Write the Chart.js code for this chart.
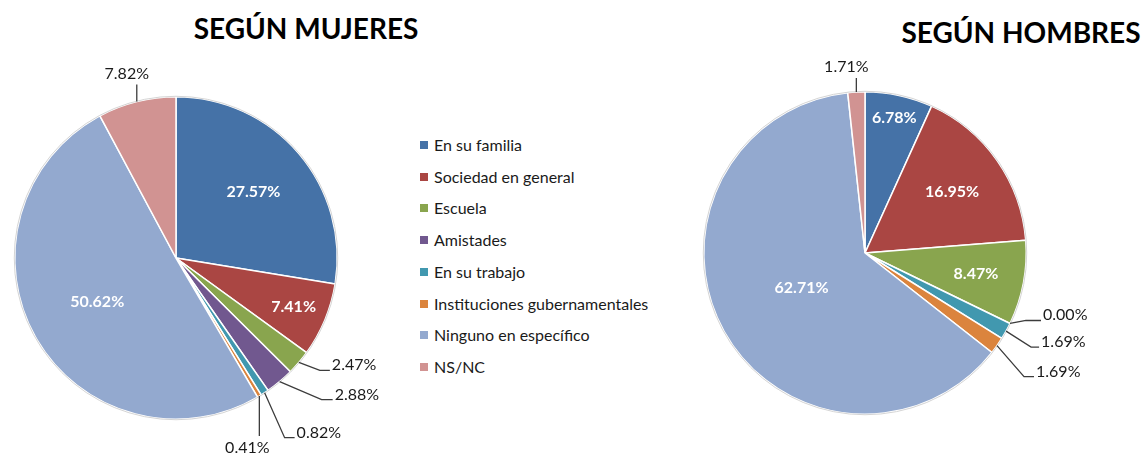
<!DOCTYPE html>
<html>
<head>
<meta charset="utf-8">
<script src="https://cdn.jsdelivr.net/npm/chart.js@4"></script>
<style>
  body { margin: 0; background: #fff; }
  #wrap { position: relative; width: 1142px; height: 456px; overflow: hidden; background: #fff; font-family: Lato, sans-serif; }
  canvas { position: absolute; top: 0; }
  .title { position: absolute; font: bold 28px Lato, sans-serif; color: #000; white-space: nowrap; transform: translateX(-50%); }
  #legend { position: absolute; left: 420px; top: 0; }
  .item { position: absolute; left: 0; white-space: nowrap; font-size: 16px; color: #1a1a1a; line-height: 18px; }
  .item span.box { position: absolute; left: 0; top: 5px; width: 8px; height: 8px; }
  .item span.txt { position: absolute; left: 14px; top: 0; }
</style>
</head>
<body>
<div id="wrap">
  <div class="title" style="left:306px; top:11px;">SEGÚN MUJERES</div>
  <div class="title" style="left:1021px; top:15px;">SEGÚN HOMBRES</div>
  <canvas id="mujeres" width="420" height="456" style="left:0; width:420px; height:456px;"></canvas>
  <div id="legend"></div>
  <canvas id="hombres" width="462" height="456" style="left:680px; width:462px; height:456px;"></canvas>
</div>
<script>
// categories and values (percent)
var categories = ["En su familia", "Sociedad en general", "Escuela", "Amistades", "En su trabajo",
                  "Instituciones gubernamentales", "Ninguno en específico", "NS/NC"];
var mujeres = [27.57, 7.41, 2.47, 2.88, 0.82, 0.41, 50.62, 7.82];
var hombres = [6.78, 16.95, 8.47, 0.00, 1.69, 1.69, 62.71, 1.71];
var colors = ["#4572A7", "#AA4643", "#89A54E", "#71588F", "#4198AF", "#DB843D", "#93A9CF", "#D19392"];

// label placement: inside = fraction of radius, leader = [dx, dy, horizontal] from the slice edge,
// text = [tx, ty] offset for labels on a vertical leader
var placesMujeres = [
  {inside: 0.63}, {inside: 0.79},
  {leader: [21, 8, 10]}, {leader: [42, 18, 11]}, {leader: [20, 45, 10]},
  {leader: [0, 40, 0], text: [-12, 57]},
  {inside: 0.56},
  {leader: [0, -17, 0], text: [-10, -23]}
];
var placesHombres = [
  {inside: 0.86}, {inside: 0.66}, {inside: 0.70},
  {leader: [16, -3, 15]}, {leader: [25, 16, 8]}, {leader: [27, 31, 10]},
  {inside: 0.45},
  {leader: [0, -14, 0], text: [-10, -20]}
];

// draws the percentage labels from the arc elements of the chart
var pieLabels = {
  id: 'pieLabels',
  afterDatasetsDraw: function(chart, args, opts) {
    var ctx = chart.ctx;
    var meta = chart.getDatasetMeta(0);
    var values = chart.data.datasets[0].data;
    // faint outer ring
    var a0 = meta.data[0].getProps(['x', 'y', 'outerRadius'], true);
    ctx.save();
    ctx.strokeStyle = '#d4d4d4';
    ctx.lineWidth = 1;
    ctx.beginPath();
    ctx.arc(a0.x, a0.y, a0.outerRadius + 0.5, 0, Math.PI * 2);
    ctx.stroke();
    meta.data.forEach(function(arc, i) {
      var p = arc.getProps(['x', 'y', 'startAngle', 'endAngle', 'outerRadius'], true);
      var mid = (p.startAngle + p.endAngle) / 2;
      var text = values[i].toFixed(2) + '%';
      var place = opts.places[i];
      if (place.inside) {
        var r = p.outerRadius * place.inside;
        ctx.font = 'bold 16px Lato';
        ctx.fillStyle = '#fff';
        ctx.textAlign = 'center';
        ctx.textBaseline = 'middle';
        ctx.fillText(text, p.x + r * Math.cos(mid), p.y + r * Math.sin(mid));
      } else {
        var ex = p.x + p.outerRadius * Math.cos(mid);
        var ey = p.y + p.outerRadius * Math.sin(mid);
        var l = place.leader;
        ctx.strokeStyle = '#3c3c3c';
        ctx.lineWidth = 1.3;
        ctx.beginPath();
        ctx.moveTo(ex, ey);
        ctx.lineTo(ex + l[0], ey + l[1]);
        ctx.lineTo(ex + l[0] + l[2], ey + l[1]);
        ctx.stroke();
        ctx.font = '16px Lato';
        ctx.fillStyle = '#1a1a1a';
        ctx.textBaseline = 'alphabetic';
        if (place.text) {
          ctx.textAlign = 'center';
          ctx.fillText(text, ex + place.text[0], ey + place.text[1]);
        } else {
          ctx.textAlign = 'left';
          ctx.fillText(text, ex + l[0] + l[2] + 2, ey + l[1]);
        }
      }
    });
    ctx.restore();
  }
};

function makePie(id, values, places, padding) {
  return new Chart(document.getElementById(id), {
    type: 'pie',
    data: {
      labels: categories,
      datasets: [{
        data: values,
        backgroundColor: colors,
        borderColor: '#ffffff',
        borderWidth: 1.5
      }]
    },
    options: {
      responsive: false,
      animation: false,
      layout: { padding: padding },
      plugins: {
        legend: { display: false },
        tooltip: { enabled: false },
        pieLabels: { places: places }
      }
    },
    plugins: [pieLabels]
  });
}

makePie('mujeres', mujeres, placesMujeres, {left: 14, right: 82, top: 96, bottom: 36});
makePie('hombres', hombres, placesHombres, {left: 23, right: 115, top: 91, bottom: 41});

// legend built from the categories and colours
var legend = document.getElementById('legend');
categories.forEach(function(name, i) {
  var div = document.createElement('div');
  div.className = 'item';
  div.style.top = (136 + i * 31.7) + 'px';
  div.innerHTML = '<span class="box" style="background:' + colors[i] + '"></span><span class="txt">' + name + '</span>';
  legend.appendChild(div);
});
</script>
</body>
</html>
